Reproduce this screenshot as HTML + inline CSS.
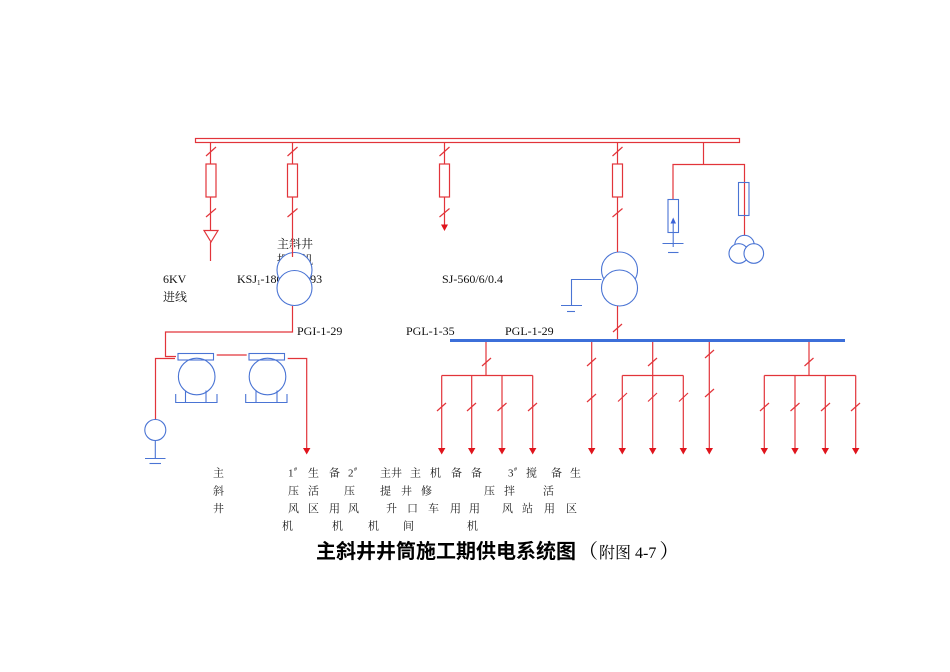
<!DOCTYPE html>
<html>
<head>
<meta charset="utf-8">
<style>
html,body{margin:0;padding:0;background:#fff;}
svg{display:block;}
.r{stroke:#e2343a;stroke-width:1.2;fill:none;}
.b{stroke:#4a74d4;stroke-width:1.1;fill:none;}
.bw{stroke:#4a74d4;stroke-width:1.1;fill:#fff;}
.t{font-family:"Liberation Serif","Noto Serif CJK SC",serif;font-size:12px;fill:#111;}
.c{font-family:"Liberation Serif","Noto Serif CJK SC",serif;font-size:11px;fill:#222;}
.s{font-family:"Liberation Serif",serif;font-size:6px;fill:#222;}
</style>
</head>
<body>
<svg width="950" height="672" viewBox="0 0 950 672" xmlns="http://www.w3.org/2000/svg">
<rect width="950" height="672" fill="#fff"/>

<!-- main bus -->
<rect x="195.5" y="138.5" width="544" height="4" class="r" fill="#fff"/>

<!-- branch 1 (x=210) -->
<line x1="210.5" y1="142.5" x2="210.5" y2="164" class="r"/>
<rect x="206" y="164" width="10" height="33" class="r"/>
<line x1="210.5" y1="197" x2="210.5" y2="230" class="r"/>
<polygon points="204,230.5 218,230.5 211,242" class="r"/>
<line x1="210.5" y1="242" x2="210.5" y2="261" class="r"/>
<line x1="206" y1="156" x2="216" y2="147" class="r"/>
<line x1="206" y1="217" x2="216" y2="208.5" class="r"/>

<!-- branch 2 (x=292) -->
<line x1="292.5" y1="142.5" x2="292.5" y2="164" class="r"/>
<rect x="287.5" y="164" width="10" height="33" class="r"/>
<line x1="287.5" y1="156" x2="297.5" y2="147" class="r"/>
<line x1="287.5" y1="217" x2="297.5" y2="208.5" class="r"/>

<!-- labels behind transformer -->
<text x="277" y="248" class="t">主斜井</text>
<text x="277" y="264" class="t">提升机</text>
<text x="237" y="283" class="t">KSJ<tspan font-size="7" dy="2">1</tspan><tspan dy="-2">-180/6/0.693</tspan></text>

<!-- transformer 1 -->
<circle cx="294.5" cy="270" r="17.5" class="bw"/>
<circle cx="294.5" cy="288" r="17.5" class="bw"/>
<line x1="292.5" y1="197" x2="292.5" y2="257" class="r"/>
<polyline points="292.5,306 292.5,332 165.5,332 165.5,356.5 176,356.5" class="r"/>

<!-- branch 3 (x=444) -->
<line x1="444.5" y1="142.5" x2="444.5" y2="164" class="r"/>
<rect x="439.5" y="164" width="10" height="33" class="r"/>
<line x1="444.5" y1="197" x2="444.5" y2="225" class="r"/>
<polygon points="441,224.5 448,224.5 444.5,231" fill="#e0141c"/>
<line x1="439.5" y1="156" x2="449.5" y2="147" class="r"/>
<line x1="439.5" y1="217" x2="449.5" y2="208.5" class="r"/>

<!-- branch 4 (x=617) -->
<line x1="617.5" y1="142.5" x2="617.5" y2="164" class="r"/>
<rect x="612.5" y="164" width="10" height="33" class="r"/>
<line x1="612.5" y1="156" x2="622.5" y2="147" class="r"/>
<line x1="612.5" y1="217" x2="622.5" y2="208.5" class="r"/>
<circle cx="619.5" cy="270" r="18" class="bw"/>
<circle cx="619.5" cy="288" r="18" class="bw"/>
<line x1="617.5" y1="197" x2="617.5" y2="252" class="r"/>
<line x1="617.5" y1="306" x2="617.5" y2="340" class="r"/>
<line x1="613" y1="332" x2="622" y2="324" class="r"/>
<polyline points="601.5,279.5 571.5,279.5 571.5,305.5" class="b"/>
<line x1="561" y1="305.5" x2="582" y2="305.5" class="b"/>
<line x1="567" y1="311.5" x2="575" y2="311.5" class="b"/>

<!-- branch 5 (x=703) -->
<polyline points="703.5,142.5 703.5,164.5" class="r"/>
<polyline points="673,199.5 673,164.5 744.5,164.5 744.5,182.5" class="r"/>
<rect x="668" y="199.5" width="10.5" height="33" class="bw"/>
<polygon points="670.5,223.5 676,223.5 673.2,217.5" fill="#3b63d8"/>
<line x1="673.2" y1="223" x2="673.2" y2="247" class="b"/>
<line x1="662.5" y1="243.5" x2="683.5" y2="243.5" class="b"/>
<line x1="668" y1="252.5" x2="678.5" y2="252.5" class="b"/>
<line x1="744.5" y1="182.5" x2="744.5" y2="235.5" class="r"/>
<rect x="738.5" y="182.5" width="10.5" height="33" class="b" stroke="#4a4ad8"/>
<circle cx="744.5" cy="245" r="9.7" class="bw"/>
<circle cx="738.8" cy="253.5" r="9.8" class="bw"/>
<circle cx="753.8" cy="253.5" r="9.8" class="bw"/>

<!-- text labels -->
<text x="163" y="283" class="t">6KV</text>
<text x="163" y="301" class="t">进线</text>
<text x="442" y="283" class="t">SJ-560/6/0.4</text>
<text x="297" y="335" class="t">PGI-1-29</text>
<text x="406" y="335" class="t">PGL-1-35</text>
<text x="505" y="335" class="t">PGL-1-29</text>

<!-- left motors -->
<polyline points="155.5,419.5 155.5,358.5 175,358.5" class="r"/>
<rect x="178" y="353.5" width="35.5" height="6.5" class="b"/>
<circle cx="196.7" cy="376.5" r="18.3" class="b"/>
<polyline points="175.7,394 175.7,402.5 217,402.5 217,394" class="b"/>
<line x1="185.5" y1="390.5" x2="185.5" y2="402.5" class="b"/>
<line x1="206" y1="390.5" x2="206" y2="402.5" class="b"/>
<line x1="216.7" y1="355" x2="246.7" y2="355" class="r"/>
<rect x="249" y="353.5" width="35.5" height="6.5" class="b"/>
<circle cx="267.5" cy="376.5" r="18.3" class="b"/>
<polyline points="245.7,394 245.7,402.5 287,402.5 287,394" class="b"/>
<line x1="256" y1="390.5" x2="256" y2="402.5" class="b"/>
<line x1="277" y1="390.5" x2="277" y2="402.5" class="b"/>
<polyline points="287.7,358.5 306.7,358.5 306.7,448" class="r"/>
<polygon points="303,448 310.4,448 306.7,454.5" fill="#e0141c"/>
<circle cx="155.3" cy="430" r="10.5" class="b"/>
<line x1="155.3" y1="440.5" x2="155.3" y2="458.5" class="b"/>
<line x1="145" y1="458.5" x2="165.5" y2="458.5" class="b"/>
<line x1="149.5" y1="463.5" x2="161" y2="463.5" class="b"/>

<!-- PGL bus -->
<line x1="450" y1="340.5" x2="845" y2="340.5" stroke="#3c6fd9" stroke-width="3"/>

<!-- group 1 -->
<g class="r">
<line x1="486" y1="342" x2="486" y2="375.5"/>
<line x1="482" y1="366" x2="491" y2="358"/>
<line x1="441.7" y1="375.5" x2="532.7" y2="375.5"/>
<line x1="441.7" y1="375.5" x2="441.7" y2="448"/>
<line x1="471.7" y1="375.5" x2="471.7" y2="448"/>
<line x1="502" y1="375.5" x2="502" y2="448"/>
<line x1="532.7" y1="375.5" x2="532.7" y2="448"/>
<line x1="437" y1="411" x2="446" y2="403"/>
<line x1="467" y1="411" x2="476" y2="403"/>
<line x1="497.5" y1="411" x2="506.5" y2="403"/>
<line x1="528" y1="411" x2="537" y2="403"/>
</g>
<!-- group 2 -->
<g class="r">
<line x1="591.7" y1="342" x2="591.7" y2="448"/>
<line x1="587" y1="366" x2="596" y2="358"/>
<line x1="587" y1="402" x2="596" y2="394"/>
</g>
<!-- group 3 -->
<g class="r">
<line x1="652.7" y1="342" x2="652.7" y2="448"/>
<line x1="648" y1="366" x2="657" y2="358"/>
<line x1="622.3" y1="375.5" x2="683.3" y2="375.5"/>
<line x1="622.3" y1="375.5" x2="622.3" y2="448"/>
<line x1="683.3" y1="375.5" x2="683.3" y2="448"/>
<line x1="618" y1="401.5" x2="627" y2="393"/>
<line x1="648" y1="401.5" x2="657" y2="393"/>
<line x1="679" y1="401.5" x2="688" y2="393"/>
</g>
<!-- group 4 -->
<g class="r">
<line x1="709.3" y1="342" x2="709.3" y2="448"/>
<line x1="705" y1="358" x2="714" y2="350"/>
<line x1="705" y1="397" x2="714" y2="389"/>
</g>
<!-- group 5 -->
<g class="r">
<line x1="809" y1="342" x2="809" y2="375.5"/>
<line x1="804.5" y1="366" x2="813.5" y2="358"/>
<line x1="764.3" y1="375.5" x2="855.7" y2="375.5"/>
<line x1="764.3" y1="375.5" x2="764.3" y2="448"/>
<line x1="795" y1="375.5" x2="795" y2="448"/>
<line x1="825.3" y1="375.5" x2="825.3" y2="448"/>
<line x1="855.7" y1="375.5" x2="855.7" y2="448"/>
<line x1="760" y1="411" x2="769" y2="403"/>
<line x1="790.5" y1="411" x2="799.5" y2="403"/>
<line x1="821" y1="411" x2="830" y2="403"/>
<line x1="851" y1="411" x2="860" y2="403"/>
</g>
<!-- arrowheads -->
<g fill="#e0141c">
<polygon points="438,448 445.4,448 441.7,454.5"/>
<polygon points="468,448 475.4,448 471.7,454.5"/>
<polygon points="498.3,448 505.7,448 502,454.5"/>
<polygon points="529,448 536.4,448 532.7,454.5"/>
<polygon points="588,448 595.4,448 591.7,454.5"/>
<polygon points="618.6,448 626,448 622.3,454.5"/>
<polygon points="649,448 656.4,448 652.7,454.5"/>
<polygon points="679.6,448 687,448 683.3,454.5"/>
<polygon points="705.6,448 713,448 709.3,454.5"/>
<polygon points="760.6,448 768,448 764.3,454.5"/>
<polygon points="791.3,448 798.7,448 795,454.5"/>
<polygon points="821.6,448 829,448 825.3,454.5"/>
<polygon points="852,448 859.4,448 855.7,454.5"/>
</g>

<!-- bottom labels -->
<g class="c">
<text x="213" y="476.5">主</text>
<text x="288" y="476.5">1</text><text x="294" y="471" class="s">#</text>
<text x="308" y="476.5">生</text>
<text x="329" y="476.5">备</text>
<text x="348" y="476.5">2</text><text x="354" y="471" class="s">#</text>
<text x="380" y="476.5">主井</text>
<text x="410" y="476.5">主</text>
<text x="430" y="476.5">机</text>
<text x="451" y="476.5">备</text>
<text x="471" y="476.5">备</text>
<text x="508" y="476.5">3</text><text x="514" y="471" class="s">#</text>
<text x="526" y="476.5">搅</text>
<text x="551" y="476.5">备</text>
<text x="570" y="476.5">生</text>

<text x="213" y="494.5">斜</text>
<text x="288" y="494.5">压</text>
<text x="308" y="494.5">活</text>
<text x="344" y="494.5">压</text>
<text x="380" y="494.5">提</text>
<text x="401" y="494.5">井</text>
<text x="421" y="494.5">修</text>
<text x="484" y="494.5">压</text>
<text x="504" y="494.5">拌</text>
<text x="543" y="494.5">活</text>

<text x="213" y="512">井</text>
<text x="288" y="512">风</text>
<text x="308" y="512">区</text>
<text x="329" y="512">用</text>
<text x="348" y="512">风</text>
<text x="386" y="512">升</text>
<text x="407" y="512">口</text>
<text x="428" y="512">车</text>
<text x="450" y="512">用</text>
<text x="469" y="512">用</text>
<text x="502" y="512">风</text>
<text x="522" y="512">站</text>
<text x="544" y="512">用</text>
<text x="566" y="512">区</text>

<text x="282" y="529.5">机</text>
<text x="332" y="529.5">机</text>
<text x="368" y="529.5">机</text>
<text x="403" y="529.5">间</text>
<text x="467" y="529.5">机</text>
</g>

<!-- title -->
<text x="316" y="558" font-family="'Noto Sans CJK SC','WenQuanYi Zen Hei',sans-serif" font-size="20" font-weight="bold" fill="#000">主斜井井筒施工期供电系统图<tspan font-weight="normal" font-family="'Noto Serif CJK SC',serif" dx="2">（</tspan><tspan font-weight="normal" font-size="16" font-family="'Liberation Serif','Noto Serif CJK SC',serif" dx="1">附图 4-7</tspan><tspan font-weight="normal" font-family="'Noto Serif CJK SC',serif" dx="3">）</tspan></text>
</svg>
</body>
</html>
